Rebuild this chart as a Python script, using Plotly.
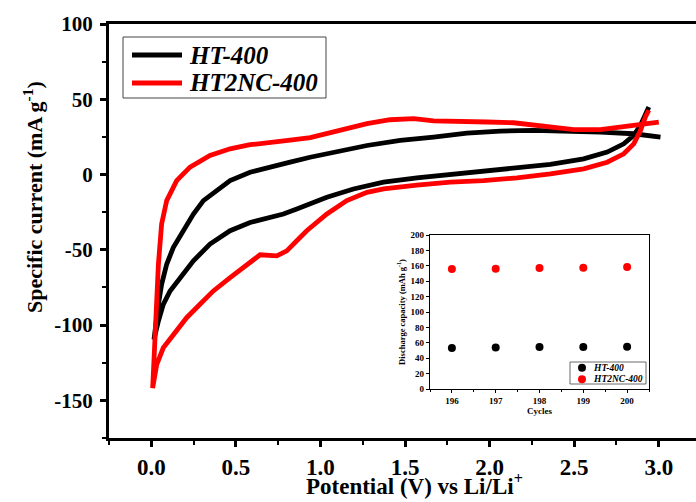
import plotly.graph_objects as go

# ---------------- data ----------------
# HT-400 CV loop (potential V, specific current mA/g), traced upper branch (3.0 -> 0) then lower branch (0 -> 2.94)
ht400_v = [3.01, 2.852, 2.655, 2.458, 2.260, 2.063, 1.866, 1.669, 1.472, 1.275, 1.077, 0.939, 0.821, 0.702,
           0.584, 0.466, 0.387, 0.308, 0.249, 0.189, 0.130, 0.091, 0.061, 0.042, 0.028, 0.016,
           0.042, 0.071, 0.111, 0.170, 0.249, 0.347, 0.466, 0.584, 0.702, 0.781, 0.860, 0.939, 1.038,
           1.195, 1.373, 1.570, 1.767, 1.964, 2.162, 2.359, 2.556, 2.695, 2.793, 2.852, 2.892, 2.921, 2.941]
ht400_i = [24.9, 27.1, 28.2, 28.9, 29.3, 28.9, 27.5, 24.9, 22.7, 19.3, 14.9, 11.5, 8.2, 4.9,
           1.5, -4.0, -10.7, -17.3, -26.2, -37.3, -48.5, -59.6, -72.9, -86.2, -99.6, -109.6,
           -97.3, -86.2, -77.3, -68.5, -57.3, -46.2, -37.3, -31.8, -28.5, -26.2, -22.9, -19.6, -15.1,
           -9.6, -5.1, -2.2, 0.0, 1.5, 3.8, 6.7, 10.4, 14.9, 20.4, 26.0, 32.7, 39.3, 44.9]

ht2nc_v = [3.000, 2.892, 2.773, 2.655, 2.497, 2.379, 2.300, 2.142, 1.985, 1.827, 1.669, 1.551, 1.412,
           1.275, 1.117, 1.057, 0.940, 0.821, 0.702, 0.584, 0.466, 0.347, 0.229, 0.150, 0.091, 0.061,
           0.042, 0.022, 0.012, 0.008,
           0.032, 0.071, 0.130, 0.209, 0.288, 0.367, 0.466, 0.564, 0.643, 0.742, 0.801, 0.860, 0.919,
           1.038, 1.156, 1.275, 1.373, 1.570, 1.767, 1.964, 2.162, 2.359, 2.556, 2.695, 2.793, 2.852,
           2.892, 2.921, 2.941]
ht2nc_i = [34.9, 33.1, 31.1, 29.8, 29.8, 31.1, 32.7, 34.4, 34.9, 34.9, 35.6, 37.1, 36.4,
           33.8, 29.3, 27.5, 24.5, 22.8, 21.5, 19.8, 17.1, 12.7, 4.9, -4.0, -17.3, -32.9,
           -59.6, -99.6, -132.9, -141.8,
           -126.2, -115.1, -106.2, -95.1, -86.2, -77.3, -68.5, -59.6, -53.3, -54.0, -50.7, -44.0, -37.3,
           -26.2, -17.3, -11.8, -9.5, -7.0, -5.1, -4.0, -2.2, 0.4, 3.8, 8.2, 13.8, 20.4,
           29.3, 38.2, 42.7]

# Inset: discharge capacity vs cycle
cycles = [196, 197, 198, 199, 200]
ht400_cap = [53.3, 54.0, 54.4, 54.5, 54.8]
ht2nc_cap = [155.7, 156.2, 157.0, 157.5, 158.3]

series_names = ["HT-400", "HT2NC-400"]
series_colors = ["#000000", "#ff0000"]

# tick labels (hyphen minus as in the reference)
y_tick_vals = [-150, -100, -50, 0, 50, 100]
y_tick_text = ["-150", "-100", "-50", "0", "50", "100"]

# ---------------- layout helpers ----------------
W, H = 696, 502
ML, MR, MT, MB = 109, 0, 24, 64
PW, PH = W - ML - MR, H - MT - MB

def px(xp):
    return (xp - ML) / PW

def py(yp):
    return (H - MB - yp) / PH

FONT = "Liberation Serif"

fig = go.Figure()

fig.add_trace(go.Scatter(x=ht400_v, y=ht400_i, mode="lines", name=series_names[0],
                         line=dict(color=series_colors[0], width=4.8), showlegend=False))
fig.add_trace(go.Scatter(x=ht2nc_v, y=ht2nc_i, mode="lines", name=series_names[1],
                         line=dict(color=series_colors[1], width=4.8), showlegend=False))

fig.add_trace(go.Scatter(x=cycles, y=ht400_cap, mode="markers", name=series_names[0],
                         marker=dict(color=series_colors[0], size=8), xaxis="x2", yaxis="y2",
                         showlegend=False))
fig.add_trace(go.Scatter(x=cycles, y=ht2nc_cap, mode="markers", name=series_names[1],
                         marker=dict(color=series_colors[1], size=8), xaxis="x2", yaxis="y2",
                         showlegend=False))

# inset domains (pixels -> paper)
ix0, ix1, iy_top, iy_bot = 430, 649, 235, 389

fig.update_layout(
    width=W, height=H,
    margin=dict(l=ML, r=MR, t=MT, b=MB, autoexpand=False),
    paper_bgcolor="white", plot_bgcolor="white",
    font=dict(family=FONT, color="black"),
    xaxis=dict(range=[-0.25, 3.22], tick0=0, dtick=0.5, tickformat=".1f",
               ticks="outside", ticklen=6, tickwidth=2.5, tickcolor="black",
               showline=True, linewidth=3, linecolor="black", mirror=True,
               showgrid=False, zeroline=False,
               minor=dict(dtick=0.25, ticks="outside", ticklen=4, tickwidth=2, tickcolor="black"),
               tickfont=dict(family=FONT, size=23, weight="bold")),
    yaxis=dict(range=[-175, 100], tickmode="array", tickvals=y_tick_vals, ticktext=y_tick_text,
               ticks="outside", ticklen=6, tickwidth=2.5, tickcolor="black",
               showline=True, linewidth=3, linecolor="black", mirror=False,
               showgrid=False, zeroline=False,
               minor=dict(dtick=25, tick0=0, ticks="outside", ticklen=4, tickwidth=2, tickcolor="black"),
               tickfont=dict(family=FONT, size=21, weight="bold"), ticklabelstandoff=3),
    xaxis2=dict(domain=[px(ix0), px(ix1)], anchor="y2", range=[195.5, 200.5], dtick=1,
                ticks="outside", ticklen=3, tickwidth=1, tickcolor="black",
                showline=True, linewidth=1.3, linecolor="black", mirror=True,
                showgrid=False, zeroline=False,
                minor=dict(dtick=0.5, ticks="outside", ticklen=2, tickwidth=1, tickcolor="black"),
                tickfont=dict(family=FONT, size=9, weight="bold"),
                title=dict(text="Cycles", font=dict(family=FONT, size=9, weight="bold"), standoff=2)),
    yaxis2=dict(domain=[py(iy_bot), py(iy_top)], anchor="x2", range=[0, 200], dtick=20,
                ticks="outside", ticklen=3, tickwidth=1, tickcolor="black",
                showline=True, linewidth=1.3, linecolor="black", mirror=True,
                showgrid=False, zeroline=False,
                tickfont=dict(family=FONT, size=9, weight="bold"),
                title=dict(text="Discharge capacity (mAh g<sup>-1</sup>)",
                           font=dict(family=FONT, size=8.5, weight="bold"), standoff=3)),
    showlegend=False,
)

# axis titles
fig.add_annotation(text="Specific current (mA g<sup>-1</sup>)", xref="paper", yref="paper",
                   x=px(33), y=py(197), textangle=-90, showarrow=False,
                   xanchor="center", yanchor="middle",
                   font=dict(family=FONT, size=22, weight="bold"))
fig.add_annotation(text="Potential (V) vs Li/Li<sup>+</sup>", xref="paper", yref="paper",
                   x=px(414), y=py(501), showarrow=False, xanchor="center", yanchor="bottom",
                   font=dict(family=FONT, size=23, weight="bold"))

# main legend (box, line samples, labels)
fig.add_shape(type="rect", xref="paper", yref="paper", x0=px(123), x1=px(326), y0=py(98), y1=py(37),
              line=dict(color="#444444", width=1), fillcolor="white", layer="above")
for yy, name, col in zip([55, 83], series_names, series_colors):
    fig.add_shape(type="line", xref="paper", yref="paper", x0=px(132), x1=px(182), y0=py(yy), y1=py(yy),
                  line=dict(color=col, width=5), layer="above")
    fig.add_annotation(text=name, xref="paper", yref="paper", x=px(187), y=py(yy),
                       xanchor="left", yanchor="middle", showarrow=False,
                       font=dict(family=FONT, size=25, weight="bold", style="italic"))

# inset legend (box, symbols, labels)
fig.add_shape(type="rect", xref="paper", yref="paper", x0=px(570), x1=px(646), y0=py(384), y1=py(362),
              line=dict(color="#444444", width=0.8), fillcolor="white", layer="above")
for yy, name, col in zip([367.7, 379.3], series_names, series_colors):
    fig.add_shape(type="circle", xref="paper", yref="paper", xsizemode="pixel", ysizemode="pixel",
                  xanchor=px(582), yanchor=py(yy), x0=-4, x1=4, y0=-4, y1=4,
                  fillcolor=col, line=dict(color=col, width=0), layer="above")
    fig.add_annotation(text=name, xref="paper", yref="paper", x=px(591), y=py(yy),
                       xanchor="left", yanchor="middle", showarrow=False,
                       font=dict(family=FONT, size=9.5, weight="bold", style="italic"))

fig.write_html("out.html", config={"displayModeBar": False},
               post_script="document.body.style.margin='0px';document.body.style.padding='0px';")
